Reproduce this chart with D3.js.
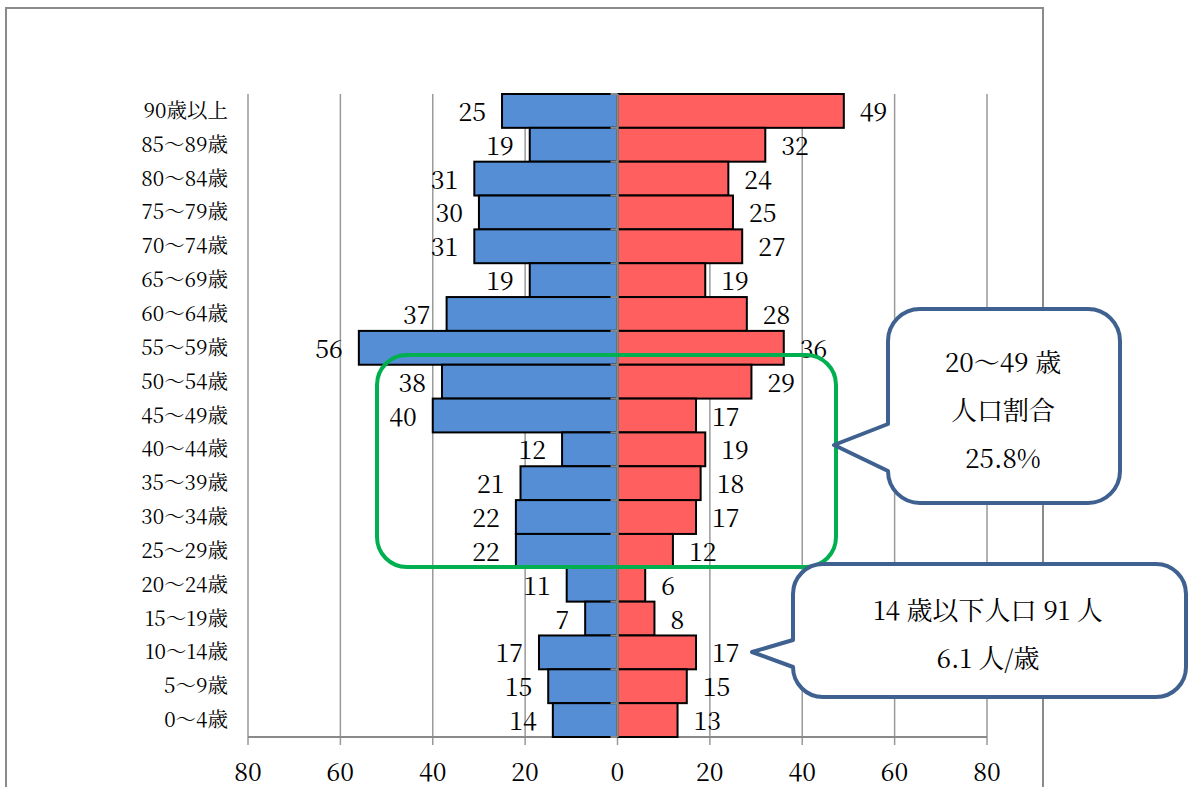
<!DOCTYPE html>
<html><head><meta charset="utf-8">
<script src="https://cdn.jsdelivr.net/npm/d3@7"></script>
<style>
html,body{margin:0;padding:0;background:#fff;}
svg{display:block;}
</style></head>
<body>
<svg id="chart" width="1190" height="787"></svg>
<script>
const categories = ["90歳以上","85〜89歳","80〜84歳","75〜79歳","70〜74歳","65〜69歳","60〜64歳","55〜59歳","50〜54歳","45〜49歳","40〜44歳","35〜39歳","30〜34歳","25〜29歳","20〜24歳","15〜19歳","10〜14歳","5〜9歳","0〜4歳"];
const male   = [25,19,31,30,31,19,37,56,38,40,12,21,22,22,11,7,17,15,14];
const female = [49,32,24,25,27,19,28,36,29,17,19,18,17,12,6,8,17,15,13];
const tickValues = [-80,-60,-40,-20,0,20,40,60,80];
const tickLabels = ["80","60","40","20","0","20","40","60","80"];
const callout1Lines = ["20〜49 歳","人口割合","25.8%"];
const callout2Lines = ["14 歳以下人口 91 人","6.1 人/歳"];

const JPFONT = '"Noto Serif CJK JP"';
const svg = d3.select("#chart");
const x = d3.scaleLinear().domain([-80,80]).range([248,987]);
const y = d3.scaleBand().domain(categories).range([94,737]).padding(0);

// outer frame
svg.append("rect").attr("x",6).attr("y",8).attr("width",1037).attr("height",820)
  .attr("fill","none").attr("stroke","#8a8a8a").attr("stroke-width",2);

// gridlines
svg.append("g").selectAll("line").data(tickValues).join("line")
  .attr("x1",d=>x(d)).attr("x2",d=>x(d)).attr("y1",94).attr("y2",745)
  .attr("stroke","#9a9a9a").attr("stroke-width",1.5);

// bottom axis line
svg.append("line").attr("x1",x(-80)).attr("x2",x(80)).attr("y1",737).attr("y2",737)
  .attr("stroke","#8a8a8a").attr("stroke-width",2);

// tick labels
svg.append("g").selectAll("text").data(tickValues).join("text")
  .attr("x",d=>x(d)).attr("y",781).attr("text-anchor","middle")
  .attr("font-size",25).style("font-family",JPFONT).text((d,i)=>tickLabels[i]);

// category labels
svg.append("g").selectAll("text").data(categories).join("text")
  .attr("x",228).attr("y",d=>y(d)+y.bandwidth()/2+7).attr("text-anchor","end")
  .attr("font-size",20.5).style("font-family",JPFONT).text(d=>d);

// bars
const bw = y.bandwidth();
svg.append("g").selectAll("rect").data(categories).join("rect")
  .attr("x",(d,i)=>x(-male[i])).attr("y",d=>y(d))
  .attr("width",(d,i)=>x(0)-x(-male[i])).attr("height",bw)
  .attr("fill","#558ed5").attr("stroke","#000").attr("stroke-width",2);
svg.append("g").selectAll("rect").data(categories).join("rect")
  .attr("x",x(0)).attr("y",d=>y(d))
  .attr("width",(d,i)=>x(female[i])-x(0)).attr("height",bw)
  .attr("fill","#ff5f5f").attr("stroke","#000").attr("stroke-width",2);

// center axis
svg.append("line").attr("x1",x(0)).attr("x2",x(0)).attr("y1",94).attr("y2",737)
  .attr("stroke","#8a8a8a").attr("stroke-width",2.5);
svg.append("g").selectAll("line").data(categories.concat(["end"])).join("line")
  .attr("x1",x(0)-7).attr("x2",x(0)).attr("y1",(d,i)=>94+i*bw).attr("y2",(d,i)=>94+i*bw)
  .attr("stroke","#8a8a8a").attr("stroke-width",2);

// value labels
svg.append("g").selectAll("text").data(categories).join("text")
  .attr("x",(d,i)=>x(-male[i])-16).attr("y",d=>y(d)+bw/2+10).attr("text-anchor","end")
  .attr("font-size",25).style("font-family",JPFONT).text((d,i)=>male[i]);
svg.append("g").selectAll("text").data(categories).join("text")
  .attr("x",(d,i)=>x(female[i])+16).attr("y",d=>y(d)+bw/2+10).attr("text-anchor","start")
  .attr("font-size",25).style("font-family",JPFONT).text((d,i)=>female[i]);

// green highlight box
svg.append("rect").attr("x",377).attr("y",355).attr("width",459).attr("height",212)
  .attr("rx",30).attr("ry",30).attr("fill","none").attr("stroke","#00b050").attr("stroke-width",4);

function calloutPath(x0,y0,x1,y1,r,pb1,pb2,tx,ty){
  pb2 = Math.min(pb2,y1-r);
  return `M${x0+r},${y0}H${x1-r}A${r},${r} 0 0 1 ${x1},${y0+r}V${y1-r}A${r},${r} 0 0 1 ${x1-r},${y1}`+
    `H${x0+r}A${r},${r} 0 0 1 ${x0},${y1-r}V${pb2}L${tx},${ty}L${x0},${pb1}V${y0+r}A${r},${r} 0 0 1 ${x0+r},${y0}Z`;
}
const cStroke = "#3e6190";
svg.append("path").attr("d",calloutPath(888,309,1120,503,32,424,472,834,445))
  .attr("fill","#fff").attr("stroke",cStroke).attr("stroke-width",4).attr("stroke-linejoin","round");
svg.append("g").selectAll("text").data(callout1Lines).join("text")
  .attr("x",1003).attr("y",(d,i)=>372+i*48).attr("text-anchor","middle")
  .attr("font-size",26).style("font-family",JPFONT).text(d=>d);

svg.append("path").attr("d",calloutPath(793,564,1186,697,30,640,675,752,652))
  .attr("fill","#fff").attr("stroke",cStroke).attr("stroke-width",4).attr("stroke-linejoin","round");
svg.append("g").selectAll("text").data(callout2Lines).join("text")
  .attr("x",988).attr("y",(d,i)=>620+i*48).attr("text-anchor","middle")
  .attr("font-size",26).style("font-family",JPFONT).text(d=>d);
</script>
</body></html>
